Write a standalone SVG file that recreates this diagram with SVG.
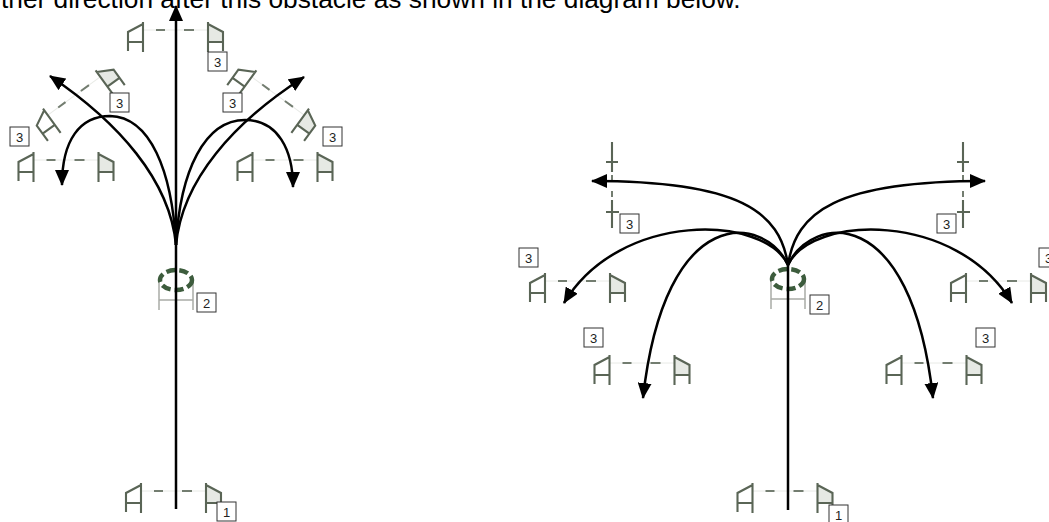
<svg xmlns="http://www.w3.org/2000/svg" xmlns:xlink="http://www.w3.org/1999/xlink" width="1049" height="522" viewBox="0 0 1049 522">
<style>
.ch{fill:none;stroke:#5a6556;stroke-width:2.1;stroke-linecap:butt}
.hatch{fill:#e6e9e4;stroke:none}
.dash{fill:none;stroke:#737d70;stroke-width:2}
.faint{fill:none;stroke:#e8eae6;stroke-width:1}
.path{fill:none;stroke:#000;stroke-width:2.5}
.lbl rect{fill:#fff;stroke:#333;stroke-width:1}
.lbl text{font-family:"Liberation Sans",Arial,sans-serif;font-size:13px;fill:#222;text-anchor:middle}
.obs{fill:none;stroke:#3d5c3d;stroke-width:4.5;stroke-dasharray:9 4}
.tbl{fill:none;stroke:#a9aca7;stroke-width:1.5}
.title{font-family:"Liberation Sans",Arial,sans-serif;font-size:26.3px;fill:#000}
</style>
<defs>
<marker id="ah" viewBox="0 0 16 14" refX="15" refY="7" markerWidth="16" markerHeight="14" markerUnits="userSpaceOnUse" orient="auto">
<path d="M0,0 L16,7 L0,14 z" fill="#000"/>
</marker>
<g id="chL">
<path class="ch" d="M0,0 V30 M0,2 L-15,10 V29 M-15,20 H0"/>
</g>
<g id="chR">
<polygon class="hatch" points="0,2 15,10 15,20 0,20"/>
<path class="ch" d="M0,0 V30 M0,2 L15,10 V29 M0,20 H15"/>
</g>
<g id="gate">
<path class="faint" d="M-32,0 H32"/>
<use xlink:href="#chL" x="-32.5" y="-8"/>
<use xlink:href="#chR" x="32.5" y="-8"/>
<path class="dash" d="M-19.5,0 H-10.5 M8.5,0 H18.5"/>
</g>
<g id="vgate">
<path class="ch" d="M0,-45 V-15 M-6,-25 H6 M0,13 V41 M-6,25 H7"/>
<path class="dash" d="M0,-12 V-6 M0,4 V10"/>
</g>
<g id="obstacle">
<path class="tbl" d="M-17,-2 V30 M17,-2 V30 M-17,20 H17"/>
<ellipse class="obs" cx="0" cy="0" rx="16" ry="10"/>
</g>
</defs>

<text class="title" x="1" y="8">ther direction after this obstacle as shown in the diagram below.</text>

<!-- LEFT DIAGRAM -->
<g id="left-gates">
<g id="L-start"><use xlink:href="#gate" transform="translate(173.5,491)"/></g>
<g id="L-top"><use xlink:href="#gate" transform="translate(175.5,30)"/></g>
<g id="L-upleft"><use xlink:href="#gate" transform="translate(74,96) rotate(-36)"/></g>
<g id="L-upright"><use xlink:href="#gate" transform="translate(278,96) rotate(36)"/></g>
<g id="L-lowleft"><use xlink:href="#gate" transform="translate(66,160)"/></g>
<g id="L-lowright"><use xlink:href="#gate" transform="translate(285,160)"/></g>
<g id="L-obstacle"><use xlink:href="#obstacle" transform="translate(176,280)"/></g>
</g>

<g id="left-connectors">
<path class="path" d="M176,509 V6" marker-end="url(#ah)"/>
<path class="path" d="M176,245 C 170,180 118,122 50,76" marker-end="url(#ah)"/>
<path class="path" d="M176,245 C 182,180 234,122 304,77" marker-end="url(#ah)"/>
<path class="path" d="M176,245 C 172,170 150,117 110,116 C 80,116 62,140 62,185" marker-end="url(#ah)"/>
<path class="path" d="M176,245 C 180,170 205,120 245,120 C 278,120 293,150 293,187" marker-end="url(#ah)"/>
</g>

<g id="left-labels">
<g class="lbl" id="lb-top"><rect x="208" y="52" width="19" height="19"/><text x="217.5" y="66.5">3</text></g>
<g class="lbl" id="lb-ul"><rect x="110" y="93" width="19" height="19"/><text x="119.5" y="107.5">3</text></g>
<g class="lbl" id="lb-ur"><rect x="223" y="93" width="19" height="19"/><text x="232.5" y="107.5">3</text></g>
<g class="lbl" id="lb-ll"><rect x="10" y="127" width="19" height="19"/><text x="19.5" y="141.5">3</text></g>
<g class="lbl" id="lb-lr"><rect x="323" y="127" width="19" height="19"/><text x="332.5" y="141.5">3</text></g>
<g class="lbl" id="lb-2"><rect x="197" y="293" width="19" height="19"/><text x="206.5" y="307.5">2</text></g>
<g class="lbl" id="lb-1"><rect x="217" y="502" width="19" height="19"/><text x="226.5" y="516.5">1</text></g>
</g>

<!-- RIGHT DIAGRAM -->
<g id="right-gates">
<g id="R-start"><use xlink:href="#gate" transform="translate(785,491)"/></g>
<g id="R-vleft"><use xlink:href="#vgate" transform="translate(612,187)"/></g>
<g id="R-vright"><use xlink:href="#vgate" transform="translate(963,187)"/></g>
<g id="R-midleft"><use xlink:href="#gate" transform="translate(577.5,281)"/></g>
<g id="R-midright"><use xlink:href="#gate" transform="translate(998.5,281)"/></g>
<g id="R-lowleft"><use xlink:href="#gate" transform="translate(642,363)"/></g>
<g id="R-lowright"><use xlink:href="#gate" transform="translate(934,363)"/></g>
<g id="R-obstacle"><use xlink:href="#obstacle" transform="translate(788,279)"/></g>
</g>

<g id="right-connectors">
<path class="path" d="M788,510 V265"/>
<path class="path" d="M788,265 C 780,212 740,181 592,181" marker-end="url(#ah)"/>
<path class="path" d="M788,265 C 796,212 836,181 985,181" marker-end="url(#ah)"/>
<path class="path" d="M788,265 C 765,215 620,210 564,303" marker-end="url(#ah)"/>
<path class="path" d="M788,265 C 765,215 665,200 643,398" marker-end="url(#ah)"/>
<path class="path" d="M788,265 C 811,215 911,200 933,398" marker-end="url(#ah)"/>
<path class="path" d="M788,265 C 811,215 956,210 1012,303" marker-end="url(#ah)"/>
</g>

<g id="right-labels">
<g class="lbl" id="rb-tl"><rect x="620" y="214" width="19" height="19"/><text x="629.5" y="228.5">3</text></g>
<g class="lbl" id="rb-tr"><rect x="937" y="214" width="19" height="19"/><text x="946.5" y="228.5">3</text></g>
<g class="lbl" id="rb-ml"><rect x="519" y="248" width="19" height="19"/><text x="528.5" y="262.5">3</text></g>
<g class="lbl" id="rb-mr"><rect x="1039" y="248" width="19" height="19"/><text x="1048.5" y="262.5">3</text></g>
<g class="lbl" id="rb-ll"><rect x="584" y="328" width="19" height="19"/><text x="593.5" y="342.5">3</text></g>
<g class="lbl" id="rb-lr"><rect x="976" y="328" width="19" height="19"/><text x="985.5" y="342.5">3</text></g>
<g class="lbl" id="rb-2"><rect x="810" y="295" width="19" height="19"/><text x="819.5" y="309.5">2</text></g>
<g class="lbl" id="rb-1"><rect x="829" y="505" width="19" height="19"/><text x="838.5" y="519.5">1</text></g>
</g>
</svg>
